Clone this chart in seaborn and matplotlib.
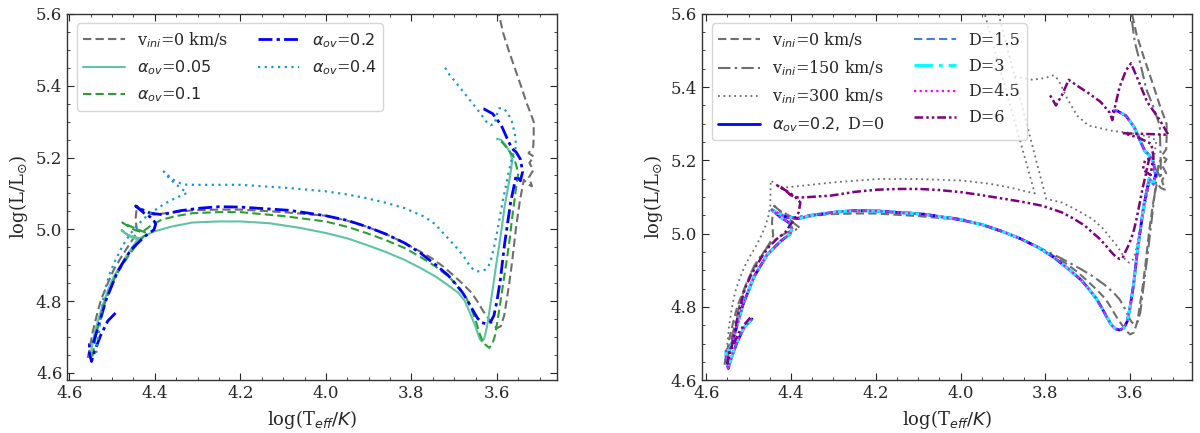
import matplotlib
matplotlib.use("Agg")
import matplotlib.pyplot as plt
import seaborn as sns

# ---- track data: log(Teff/K) and log(L/Lsun) ----

# v_ini = 0 km/s (alpha_ov = 0.2), shown in both panels
v0_T = [4.557, 4.552, 4.546, 4.536, 4.526, 4.510, 4.496, 4.480, 4.465, 4.450,
        4.442, 4.445, 4.442, 4.425, 4.402, 4.360, 4.312, 4.250, 4.201, 4.100,
        4.001, 3.950, 3.906, 3.860, 3.816, 3.785, 3.753, 3.725, 3.699, 3.678,
        3.659, 3.645, 3.632, 3.620, 3.610, 3.600, 3.591, 3.583, 3.577, 3.570,
        3.564, 3.555, 3.546, 3.537, 3.528, 3.518, 3.525, 3.515, 3.524, 3.514,
        3.526, 3.515, 3.514, 3.514, 3.530, 3.546, 3.560, 3.573, 3.585, 3.596,
        3.605]
v0_L = [4.642, 4.670, 4.711, 4.760, 4.804, 4.850, 4.888, 4.920, 4.948, 4.975,
        4.995, 5.030, 5.064, 5.050, 5.041, 5.047, 5.053, 5.055, 5.055, 5.048,
        5.038, 5.024, 5.008, 4.987, 4.962, 4.942, 4.920, 4.896, 4.869, 4.846,
        4.823, 4.798, 4.772, 4.752, 4.735, 4.725, 4.730, 4.760, 4.804, 4.860,
        4.915, 5.008, 5.082, 5.138, 5.125, 5.120, 5.145, 5.165, 5.185, 5.203,
        5.212, 5.230, 5.260, 5.300, 5.350, 5.407, 5.455, 5.500, 5.545, 5.602,
        5.640]

# alpha_ov = 0.05
a005_T = [4.550, 4.546, 4.541, 4.532, 4.523, 4.510, 4.496, 4.480, 4.465, 4.450,
          4.438, 4.450, 4.465, 4.478, 4.470, 4.455, 4.440, 4.420, 4.402, 4.360,
          4.312, 4.250, 4.201, 4.132, 4.060, 4.001, 3.950, 3.906, 3.860, 3.816,
          3.780, 3.744, 3.715, 3.690, 3.675, 3.663, 3.652, 3.645, 3.640, 3.636,
          3.630, 3.623, 3.616, 3.609, 3.602, 3.595, 3.588, 3.582, 3.575, 3.568,
          3.564, 3.570, 3.580, 3.590, 3.600]
a005_L = [4.651, 4.680, 4.711, 4.750, 4.785, 4.830, 4.869, 4.900, 4.929, 4.955,
          4.976, 4.980, 4.985, 4.998, 4.990, 4.978, 4.972, 4.984, 4.994, 5.008,
          5.019, 5.022, 5.022, 5.017, 5.004, 4.990, 4.975, 4.957, 4.937, 4.915,
          4.893, 4.869, 4.845, 4.823, 4.800, 4.767, 4.735, 4.711, 4.695, 4.688,
          4.695, 4.730, 4.785, 4.841, 4.900, 4.953, 5.010, 5.064, 5.110, 5.157,
          5.194, 5.215, 5.235, 5.249, 5.252]

# alpha_ov = 0.1
a01_T = [4.546, 4.541, 4.537, 4.527, 4.517, 4.505, 4.492, 4.476, 4.460, 4.446,
         4.433, 4.425, 4.420, 4.440, 4.460, 4.476, 4.462, 4.447, 4.430, 4.410,
         4.384, 4.350, 4.312, 4.250, 4.201, 4.100, 4.001, 3.950, 3.906, 3.860,
         3.816, 3.780, 3.744, 3.715, 3.690, 3.672, 3.659, 3.648, 3.641, 3.634,
         3.627, 3.618, 3.611, 3.605, 3.598, 3.591, 3.584, 3.577, 3.570, 3.564,
         3.558, 3.555, 3.550, 3.560, 3.575, 3.590, 3.600]
a01_L = [4.646, 4.680, 4.711, 4.755, 4.795, 4.833, 4.869, 4.900, 4.929, 4.952,
         4.971, 4.982, 4.990, 5.000, 5.010, 5.019, 5.008, 4.998, 4.992, 5.010,
         5.027, 5.037, 5.045, 5.048, 5.048, 5.037, 5.022, 5.007, 4.990, 4.970,
         4.948, 4.924, 4.897, 4.870, 4.841, 4.810, 4.776, 4.740, 4.711, 4.690,
         4.679, 4.670, 4.680, 4.702, 4.750, 4.804, 4.860, 4.915, 4.975, 5.036,
         5.090, 5.119, 5.157, 5.200, 5.225, 5.245, 5.250]

# alpha_ov = 0.2 (the D = 0 ... 4.5 tracks lie on top of it in the right panel)
a02_T = [4.492, 4.510, 4.526, 4.538, 4.545, 4.548, 4.553, 4.553, 4.545, 4.541,
         4.532, 4.514, 4.487, 4.456, 4.424, 4.402, 4.398, 4.405, 4.425, 4.445,
         4.430, 4.410, 4.384, 4.340, 4.294, 4.250, 4.201, 4.150, 4.086, 4.001,
         3.950, 3.906, 3.860, 3.816, 3.780, 3.744, 3.715, 3.699, 3.680, 3.668,
         3.655, 3.645, 3.635, 3.625, 3.615, 3.607, 3.600, 3.592, 3.582, 3.568,
         3.555, 3.545, 3.540, 3.545, 3.555, 3.565, 3.575, 3.590, 3.610, 3.630,
         3.640]
a02_L = [4.767, 4.745, 4.707, 4.670, 4.645, 4.632, 4.655, 4.680, 4.682, 4.695,
         4.730, 4.804, 4.883, 4.943, 4.980, 4.999, 5.015, 5.030, 5.045, 5.065,
         5.055, 5.045, 5.041, 5.052, 5.059, 5.063, 5.062, 5.058, 5.053, 5.038,
         5.025, 5.008, 4.987, 4.962, 4.935, 4.902, 4.873, 4.851, 4.823, 4.800,
         4.772, 4.752, 4.740, 4.737, 4.742, 4.760, 4.800, 4.860, 4.960, 5.075,
         5.150, 5.135, 5.160, 5.195, 5.215, 5.225, 5.250, 5.290, 5.322, 5.335,
         5.335]

# alpha_ov = 0.4
a04_T = [4.537, 4.530, 4.519, 4.506, 4.492, 4.475, 4.456, 4.438, 4.420, 4.398,
         4.375, 4.350, 4.325, 4.345, 4.365, 4.379, 4.360, 4.340, 4.325, 4.312,
         4.250, 4.201, 4.150, 4.086, 4.001, 3.950, 3.906, 3.860, 3.816, 3.771,
         3.745, 3.726, 3.708, 3.690, 3.675, 3.663, 3.652, 3.645, 3.636, 3.627,
         3.620, 3.614, 3.607, 3.600, 3.593, 3.586, 3.579, 3.573, 3.564, 3.555,
         3.558, 3.565, 3.575, 3.585, 3.595, 3.600, 3.605, 3.615, 3.625, 3.640,
         3.660, 3.680, 3.700, 3.712, 3.718, 3.722]
a04_L = [4.656, 4.720, 4.823, 4.875, 4.915, 4.955, 4.990, 5.015, 5.036, 5.055,
         5.073, 5.088, 5.101, 5.120, 5.140, 5.161, 5.140, 5.128, 5.124, 5.124,
         5.124, 5.124, 5.120, 5.115, 5.106, 5.097, 5.087, 5.074, 5.059, 5.036,
         5.015, 4.990, 4.967, 4.943, 4.920, 4.897, 4.885, 4.883, 4.884, 4.888,
         4.897, 4.915, 4.950, 4.990, 5.035, 5.082, 5.120, 5.157, 5.203, 5.231,
         5.265, 5.300, 5.325, 5.337, 5.337, 5.320, 5.295, 5.290, 5.300, 5.325,
         5.355, 5.385, 5.415, 5.432, 5.445, 5.450]

# v_ini = 150 km/s
v150_T = [4.550, 4.545, 4.537, 4.528, 4.518, 4.505, 4.487, 4.468, 4.450, 4.430,
          4.410, 4.392, 4.378, 4.395, 4.415, 4.432, 4.440, 4.425, 4.396, 4.350,
          4.300, 4.197, 4.100, 3.997, 3.950, 3.897, 3.850, 3.807, 3.760, 3.716,
          3.690, 3.662, 3.640, 3.625, 3.613, 3.603, 3.596, 3.589, 3.582, 3.576,
          3.569, 3.562, 3.555, 3.548, 3.539, 3.535, 3.528, 3.536, 3.527, 3.530,
          3.545, 3.562, 3.575, 3.589, 3.598, 3.603]
v150_L = [4.648, 4.690, 4.730, 4.775, 4.821, 4.865, 4.912, 4.945, 4.971, 4.990,
          5.003, 5.010, 5.015, 5.030, 5.050, 5.068, 5.076, 5.062, 5.044, 5.052,
          5.058, 5.063, 5.056, 5.040, 5.024, 5.003, 4.982, 4.958, 4.931, 4.903,
          4.885, 4.862, 4.840, 4.821, 4.797, 4.771, 4.758, 4.753, 4.760, 4.785,
          4.850, 4.912, 4.980, 5.049, 5.140, 5.180, 5.200, 5.170, 5.150, 5.295,
          5.345, 5.395, 5.460, 5.523, 5.600, 5.630]

# v_ini = 300 km/s
v300_T = [4.555, 4.550, 4.546, 4.540, 4.532, 4.521, 4.509, 4.495, 4.482, 4.470,
          4.460, 4.453, 4.449, 4.448, 4.430, 4.414, 4.380, 4.300, 4.197, 4.100,
          3.997, 3.930, 3.880, 3.852, 3.825, 3.850, 3.880, 3.910, 3.935, 3.948,
          3.915, 3.895, 3.873, 3.850, 3.825, 3.798, 3.761, 3.725, 3.689, 3.665,
          3.644, 3.630, 3.621, 3.612, 3.603, 3.595, 3.588, 3.580, 3.571, 3.562,
          3.552, 3.544, 3.538, 3.560, 3.600, 3.644, 3.698, 3.725, 3.748, 3.765,
          3.775, 3.782, 3.800, 3.830, 3.855, 3.873]
v300_L = [4.653, 4.700, 4.748, 4.795, 4.840, 4.878, 4.912, 4.942, 4.967, 4.995,
          5.022, 5.050, 5.076, 5.145, 5.130, 5.126, 5.130, 5.140, 5.149, 5.149,
          5.145, 5.136, 5.125, 5.117, 5.110, 5.214, 5.338, 5.462, 5.566, 5.620,
          5.620, 5.530, 5.430, 5.327, 5.215, 5.095, 5.085, 5.064, 5.040, 5.015,
          4.985, 4.965, 4.949, 4.930, 4.921, 4.925, 4.945, 4.990, 5.040, 5.095,
          5.150, 5.204, 5.255, 5.266, 5.275, 5.281, 5.295, 5.322, 5.368, 5.410,
          5.428, 5.432, 5.425, 5.420, 5.425, 5.430]

# D = 6
d6_T = [4.496, 4.510, 4.523, 4.535, 4.546, 4.550, 4.547, 4.541, 4.534, 4.527,
        4.518, 4.509, 4.495, 4.482, 4.466, 4.450, 4.432, 4.414, 4.398, 4.382,
        4.378, 4.390, 4.405, 4.420, 4.432, 4.415, 4.401, 4.385, 4.369, 4.305,
        4.250, 4.197, 4.150, 4.097, 4.050, 3.997, 3.950, 3.897, 3.850, 3.807,
        3.761, 3.735, 3.707, 3.690, 3.671, 3.657, 3.644, 3.634, 3.625, 3.618,
        3.612, 3.605, 3.598, 3.591, 3.585, 3.578, 3.571, 3.562, 3.555, 3.565,
        3.570, 3.552, 3.545, 3.550, 3.580, 3.615, 3.560, 3.510, 3.530, 3.560,
        3.585, 3.598, 3.610, 3.625, 3.635, 3.642, 3.648, 3.670, 3.700, 3.720,
        3.745, 3.760, 3.775, 3.790]
d6_L = [4.771, 4.752, 4.730, 4.700, 4.676, 4.645, 4.665, 4.685, 4.725, 4.767,
        4.810, 4.849, 4.885, 4.912, 4.942, 4.967, 4.987, 5.003, 5.030, 5.058,
        5.085, 5.100, 5.113, 5.123, 5.131, 5.120, 5.105, 5.099, 5.099, 5.104,
        5.114, 5.120, 5.122, 5.122, 5.119, 5.113, 5.105, 5.095, 5.086, 5.076,
        5.058, 5.042, 5.022, 5.004, 4.985, 4.967, 4.949, 4.937, 4.931, 4.933,
        4.949, 4.965, 4.985, 5.010, 5.040, 5.080, 5.122, 5.167, 5.205, 5.200,
        5.175, 5.160, 5.210, 5.245, 5.262, 5.274, 5.272, 5.270, 5.310, 5.360,
        5.430, 5.465, 5.445, 5.400, 5.350, 5.310, 5.330, 5.360, 5.385, 5.400,
        5.420, 5.380, 5.350, 5.380]

xticks = [4.6, 4.4, 4.2, 4.0, 3.8, 3.6]
yticks = [4.6, 4.8, 5.0, 5.2, 5.4, 5.6]

sns.set_style("ticks")
plt.rcParams.update({
    "font.family": "serif",
    "font.serif": ["DejaVu Serif"],
    "mathtext.fontset": "dejavusans",
    "xtick.direction": "in",
    "ytick.direction": "in",
    "xtick.top": True,
    "ytick.right": True,
    "xtick.minor.visible": True,
    "ytick.minor.visible": True,
    "xtick.major.size": 5,
    "ytick.major.size": 5,
    "xtick.minor.size": 2.5,
    "ytick.minor.size": 2.5,
    "axes.edgecolor": "#333333",
    "axes.linewidth": 1.0,
})

fig = plt.figure(figsize=(12, 4.33), dpi=100)
ax1 = fig.add_axes([0.056, 0.122, 0.408, 0.846])
ax2 = fig.add_axes([0.585, 0.122, 0.408, 0.846])

GRAY = "#6e6e6e"


def track(ax, T, L, **kw):
    sns.lineplot(x=T, y=L, sort=False, estimator=None, ax=ax, **kw)


# left panel: overshooting
track(ax1, v0_T, v0_L, color=GRAY, ls=(0, (4, 2)), lw=1.5, label=r"v$_{ini}$=0 km/s")
track(ax1, a005_T, a005_L, color="#5ec4a4", ls="-", lw=1.5, label=r"$\alpha_{ov}$=$0.05$")
track(ax1, a01_T, a01_L, color="#2aa033", ls=(0, (4, 2)), lw=1.5, label=r"$\alpha_{ov}$=$0.1$")
track(ax1, a02_T, a02_L, color="blue", ls=(0, (5, 1.5, 1.2, 1.5)), lw=2.0, label=r"$\alpha_{ov}$=$0.2$")
track(ax1, a04_T, a04_L, color="#1a98cc", ls=(0, (1, 2)), lw=1.6, label=r"$\alpha_{ov}$=$0.4$")

# right panel: rotation and diffusion
track(ax2, v0_T, v0_L, color=GRAY, ls=(0, (4, 2)), lw=1.5, label=r"v$_{ini}$=0 km/s")
track(ax2, v150_T, v150_L, color=GRAY, ls=(0, (6, 2, 1.2, 2)), lw=1.5, label=r"v$_{ini}$=150 km/s")
track(ax2, v300_T, v300_L, color=GRAY, ls=(0, (1, 2)), lw=1.3, label=r"v$_{ini}$=300 km/s")
track(ax2, a02_T, a02_L, color="blue", ls="-", lw=2.0, label=r"$\alpha_{ov}$=$0.2,$ D=0")
track(ax2, a02_T, a02_L, color="#3f7fe6", ls=(0, (4, 2)), lw=1.5, label="D=1.5")
track(ax2, a02_T, a02_L, color="cyan", ls=(0, (6, 2, 1.2, 2)), lw=2.2, label="D=3")
track(ax2, a02_T, a02_L, color="magenta", ls=(0, (1, 1.5)), lw=1.6, label="D=4.5")
track(ax2, d6_T, d6_L, color="purple", ls=(0, (3.5, 1.2, 1, 1.2, 1, 1.2)), lw=1.8, label="D=6")

for ax, xl, yl in [(ax1, (4.605, 3.46), (4.58, 5.6)), (ax2, (4.61, 3.455), (4.6, 5.6))]:
    ax.set_xlim(*xl)
    ax.set_ylim(*yl)
    ax.set_xticks(xticks)
    ax.set_yticks(yticks)
    ax.tick_params(labelsize=12)
    ax.set_xlabel(r"log(T$_{eff}/K$)", fontsize=13)
    ax.set_ylabel(r"log(L/L$_{\odot}$)", fontsize=13)
    ax.legend(loc="upper left", ncol=2, fontsize=11.5, handlelength=2.6,
              columnspacing=1.8, borderaxespad=0.6, labelspacing=0.55)

fig.savefig("out.png", dpi=100)
